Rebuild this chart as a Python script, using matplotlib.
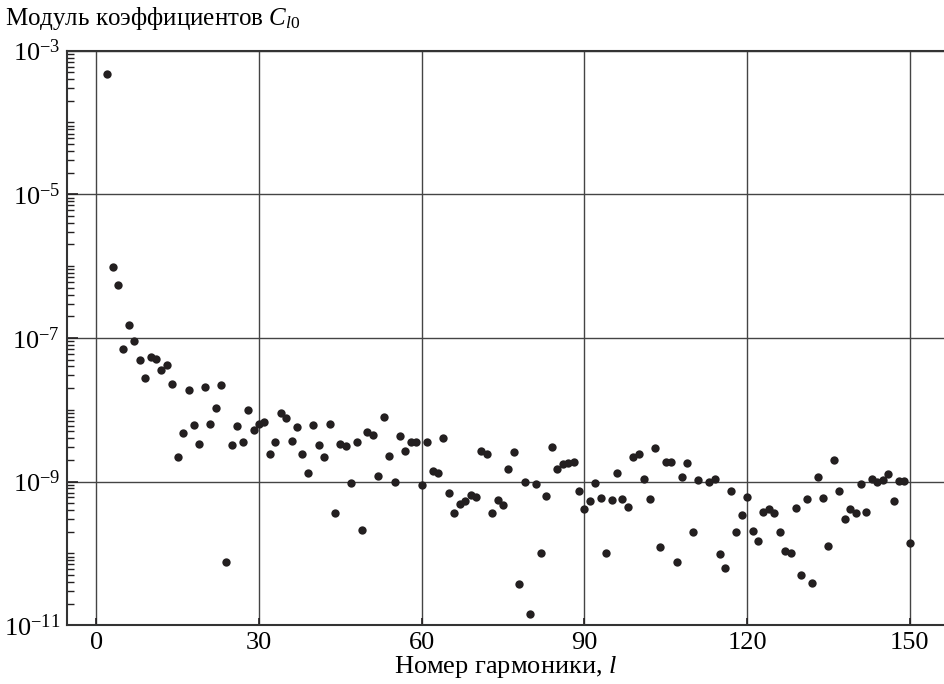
import numpy as np
import matplotlib
matplotlib.use("Agg")
import matplotlib.pyplot as plt
from matplotlib.ticker import FixedLocator, LogLocator, NullFormatter

plt.rcParams['font.family'] = ['Liberation Serif', 'DejaVu Serif']
plt.rcParams['mathtext.fontset'] = 'custom'
plt.rcParams['mathtext.rm'] = 'Liberation Serif'
plt.rcParams['mathtext.it'] = 'Liberation Serif:italic'

# harmonic number l (l = 112 not visible in the source)
harmonic = [l for l in range(2, 151) if l != 112]

coef = [
    4.8e-4, 9.6e-7, 5.4e-7, 6.9e-8, 1.5e-7, 9.1e-8, 5.0e-8, 2.8e-8, 5.4e-8,      # 2-10
    5.1e-8, 3.6e-8, 4.2e-8, 2.3e-8, 2.2e-9, 4.8e-9, 1.9e-8, 6.2e-9, 3.3e-9, 2.1e-8,  # 11-20
    6.3e-9, 1.07e-8, 2.2e-8, 7.6e-11, 3.2e-9, 5.9e-9, 3.6e-9, 9.8e-9, 5.3e-9, 6.3e-9,  # 21-30
    6.7e-9, 2.4e-9, 3.6e-9, 8.9e-9, 7.7e-9, 3.7e-9, 5.7e-9, 2.4e-9, 1.3e-9, 6.2e-9,  # 31-40
    3.2e-9, 2.2e-9, 6.4e-9, 3.6e-10, 3.3e-9, 3.1e-9, 9.6e-10, 3.5e-9, 2.1e-10, 4.9e-9,  # 41-50
    4.4e-9, 1.2e-9, 7.9e-9, 2.3e-9, 1.0e-9, 4.3e-9, 2.7e-9, 3.5e-9, 3.5e-9, 8.9e-10,  # 51-60
    3.5e-9, 1.4e-9, 1.3e-9, 4.1e-9, 6.9e-10, 3.7e-10, 4.9e-10, 5.3e-10, 6.5e-10, 6.0e-10,  # 61-70
    2.7e-9, 2.4e-9, 3.6e-10, 5.6e-10, 4.7e-10, 1.5e-9, 2.6e-9, 3.7e-11, 1.0e-9, 1.45e-11,  # 71-80
    9.1e-10, 1.0e-10, 6.3e-10, 3.0e-9, 1.5e-9, 1.75e-9, 1.8e-9, 1.85e-9, 7.3e-10, 4.2e-10,  # 81-90
    5.3e-10, 9.5e-10, 5.9e-10, 1.0e-10, 5.6e-10, 1.3e-9, 5.8e-10, 4.4e-10, 2.2e-9, 2.4e-9,  # 91-100
    1.08e-9, 5.7e-10, 2.95e-9, 1.24e-10, 1.9e-9, 1.9e-9, 7.7e-11, 1.17e-9, 1.8e-9, 2.0e-10,  # 101-110
    1.06e-9, 1.0e-9, 1.08e-9, 9.7e-11, 6.2e-11, 7.5e-10, 1.96e-10, 3.4e-10, 6.1e-10,  # 111-120 (no 112)
    2.05e-10, 1.5e-10, 3.8e-10, 4.2e-10, 3.6e-10, 2.0e-10, 1.08e-10, 1.02e-10, 4.3e-10, 5.0e-11,  # 121-130
    5.7e-10, 3.9e-11, 1.16e-9, 5.9e-10, 1.26e-10, 2.0e-9, 7.4e-10, 3.05e-10, 4.2e-10, 3.6e-10,  # 131-140
    9.2e-10, 3.8e-10, 1.08e-9, 9.7e-10, 1.05e-9, 1.29e-9, 5.3e-10, 1.03e-9, 1.03e-9, 1.38e-10,  # 141-150
]

x_ticks = [0, 30, 60, 90, 120, 150]
y_ticks = [1e-11, 1e-9, 1e-7, 1e-5, 1e-3]

fig = plt.figure(figsize=(9.44, 6.84), dpi=100)
ax = fig.add_axes([0.071, 0.086, 0.929, 0.840])

ax.plot(harmonic, coef, 'o', color='#231f20', markersize=6.0, markeredgewidth=0, zorder=3)

ax.set_yscale('log')
ax.set_xlim(-5.4, 156.3)
ax.set_ylim(1e-11, 1e-3)

ax.xaxis.set_major_locator(FixedLocator(x_ticks))
ax.yaxis.set_major_locator(FixedLocator(y_ticks))
ax.yaxis.set_minor_locator(LogLocator(base=10, subs=np.arange(1, 10), numticks=100))
ax.yaxis.set_minor_formatter(NullFormatter())

ax.tick_params(axis='both', which='major', direction='in', labelsize=19, color='#231f20',
               length=8, width=1.2, pad=5)
ax.tick_params(axis='y', which='minor', direction='in', length=5, width=1.0, color='#231f20')
ax.tick_params(axis='x', which='major', length=5)

ax.grid(which='major', color='#444444', linewidth=1.0)

for side in ['left', 'bottom', 'top']:
    ax.spines[side].set_linewidth(1.5)
    ax.spines[side].set_color('#333333')
ax.spines['right'].set_visible(False)

ax.set_xlabel('Номер гармоники, $\\mathit{l}$', fontsize=19, labelpad=0)
fig.text(0.005, 0.993, 'Модуль коэффициентов $C_{l0}$', fontsize=18, va='top', ha='left')

fig.savefig('out.png', dpi=100)
